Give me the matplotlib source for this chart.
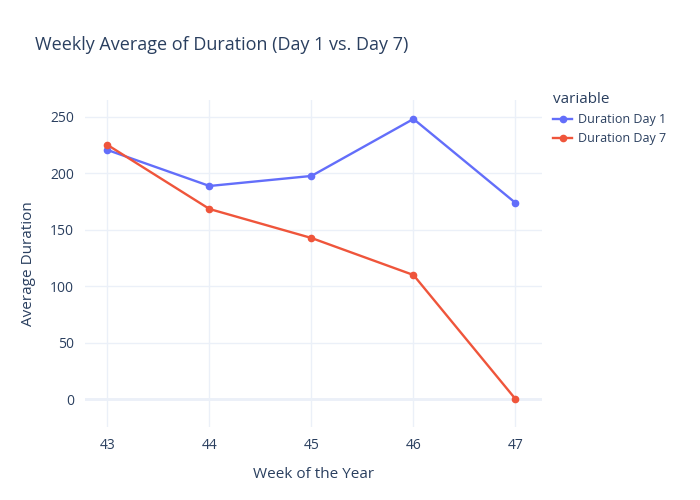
import matplotlib
matplotlib.use("Agg")
import matplotlib.pyplot as plt

weeks = [43, 44, 45, 46, 47]
day1 = [220.7, 188.8, 197.7, 248.2, 173.8]
day7 = [225.2, 168.4, 142.7, 109.9, 0.0]

plt.rcParams['font.family'] = ['Open Sans', 'DejaVu Sans']
txt = '#2a3f5f'
grid = '#EBF0F8'

fig = plt.figure(figsize=(7, 5), dpi=100)
ax = fig.add_axes([85 / 700, 73 / 500, 457 / 700, 327 / 500])

ax.plot(weeks, day1, color='#636EFA', marker='o', markersize=4.5, linewidth=1.7, label='Duration Day 1', zorder=3)
ax.plot(weeks, day7, color='#EF553B', marker='o', markersize=4.5, linewidth=1.7, label='Duration Day 7', zorder=3)

ax.set_xlim(42.78, 47.26)
ax.set_ylim(-24.8, 265)
ax.set_xticks(weeks)
ax.set_yticks([0, 50, 100, 150, 200, 250])
ax.grid(True, color=grid, linewidth=1)
ax.axhline(0, color=grid, linewidth=2, zorder=1)
for s in ax.spines.values():
    s.set_visible(False)
ax.tick_params(length=0, colors=txt, labelsize=10, pad=8)

ax.set_xlabel('Week of the Year', color=txt, fontsize=11, labelpad=10)
ax.set_ylabel('Average Duration', color=txt, fontsize=11, labelpad=10)
fig.text(35 / 700, 1 - 45 / 500, 'Weekly Average of Duration (Day 1 vs. Day 7)',
         color=txt, fontsize=13, va='center')

leg = ax.legend(loc='upper left', bbox_to_anchor=(1.0, 1.06), frameon=False,
                title='variable', fontsize=9, handlelength=1.5, handletextpad=0.5,
                alignment='left')
leg.get_title().set_color(txt)
leg.get_title().set_fontsize(11)
for t in leg.get_texts():
    t.set_color(txt)

fig.savefig('out.png', dpi=100)
